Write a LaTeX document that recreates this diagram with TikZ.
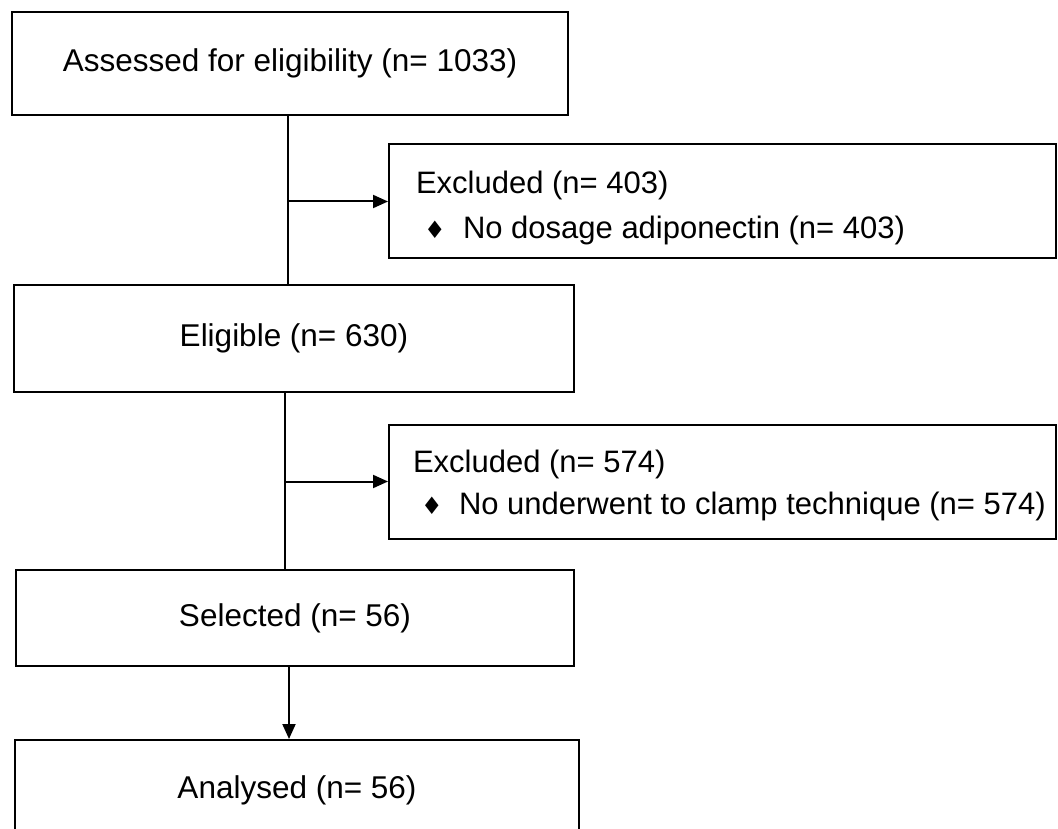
\documentclass[tikz,border=0pt]{standalone}
\usepackage{fontspec}
\setmainfont{Liberation Sans}
\newfontfamily\dvfont{DejaVu Sans}
\usetikzlibrary{arrows.meta}
\newcommand{\dmd}{{\dvfont\fontsize{24}{24}\selectfont ♦}}
\newcommand{\exline}[2]{\makebox[667pt][l]{\hspace*{#1}#2}}
\begin{document}
\begin{tikzpicture}[x=1pt,y=-1pt,
  box/.style={draw, line width=2pt, inner sep=0pt, font=\fontsize{31.5}{36}\selectfont},
  exbox/.style={draw, line width=2pt, anchor=west, align=left, inner sep=0pt,
    minimum width=667pt, minimum height=114pt, font=\fontsize{31}{45}\selectfont},
  ln/.style={line width=2pt},
  arr/.style={line width=2pt, -{Triangle[length=15pt,width=13pt]}}]
\clip (0,0) rectangle (1058,829);
\fill[white] (0,0) rectangle (1058,829);
\coordinate (trunkA) at (288,0);
\coordinate (trunkB) at (285,0);
\coordinate (trunkC) at (289,0);
\node[box, minimum width=556pt, minimum height=103pt] (b1) at (290,63.5) {Assessed for eligibility (n= 1033)};
\node[box, minimum width=560pt, minimum height=107pt] (b2) at (294,338.5) {Eligible (n= 630)};
\node[box, minimum width=558pt, minimum height=96pt] (b3) at (295,618) {Selected (n= 56)};
\node[box, minimum width=564pt, minimum height=100pt] (b4) at (297,790) {Analysed (n= 56)};
\node[exbox] (e1) at (388,201.5)
  {\exline{27pt}{\rule{0pt}{35pt}Excluded (n= 403)}\\
   \exline{27pt}{\makebox[47pt][l]{\hspace*{8pt}\dmd}No dosage adiponectin (n= 403)}};
\node[exbox] (e2) at (388,481.5)
  {\exline{24pt}{\rule{0pt}{30pt}Excluded (n= 574)}\\[-3pt]
   \exline{24pt}{\makebox[46pt][l]{\hspace*{8pt}\dmd}No underwent to clamp technique (n= 574)}};
\draw[ln] (b1.south -| trunkA) -- (b2.north -| trunkA);
\draw[arr] (trunkA |- e1.west) -- (e1.west);
\draw[ln] (b2.south -| trunkB) -- (b3.north -| trunkB);
\draw[arr] (trunkB |- e2.west) -- (e2.west);
\draw[arr] (b3.south -| trunkC) -- (b4.north -| trunkC);
\end{tikzpicture}
\end{document}
